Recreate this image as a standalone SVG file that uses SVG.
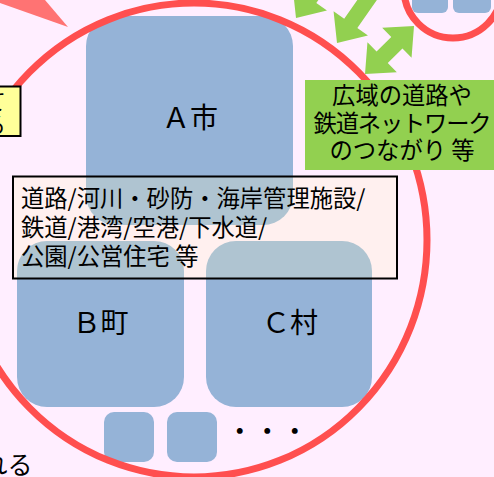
<svg xmlns="http://www.w3.org/2000/svg" width="494" height="477" viewBox="0 0 494 477">
<defs>
<style>
.blue{fill:#95B3D7;}
.ring{fill:none;stroke:#FF4F4F;stroke-width:7;}
.jp{font-family:"Noto Sans CJK JP","Liberation Sans",sans-serif;fill:#000;}
.lbl{font-size:28px;text-anchor:middle;}
.box{font-size:23.3px;}
.garrow{fill:#92D050;}
</style>
<path id="dbl" d="M0,0 L24,-21 L24,-8 L44.6,-8 L44.6,-21 L68.6,0 L44.6,21 L44.6,8 L24,8 L24,21 Z"/>
</defs>
<rect x="0" y="0" width="494" height="477" fill="#FFEEFF"/>

<g id="nodeA"><rect class="blue" x="86" y="16" width="207" height="209" rx="30"/><text class="jp lbl" x="190" y="128">Ａ市</text></g>
<g id="nodeB"><rect class="blue" x="17" y="241" width="167" height="166" rx="30"/><text class="jp lbl" x="100.5" y="333">Ｂ町</text></g>
<g id="nodeC"><rect class="blue" x="206" y="241" width="166" height="166" rx="30"/><text class="jp lbl" x="290" y="333">Ｃ村</text></g>
<g id="nodeS1"><rect class="blue" x="104" y="412" width="50" height="50" rx="10"/></g>
<g id="nodeS2"><rect class="blue" x="167" y="412" width="50" height="50" rx="10"/></g>
<g id="dots"><text class="jp" x="226" y="440.5" font-size="27.5">・・・</text></g>
<g id="nodeTR1"><rect class="blue" x="412" y="-30" width="36" height="43" rx="6"/></g>
<g id="nodeTR2"><rect class="blue" x="453" y="-30" width="38" height="43" rx="6"/></g>

<g id="regions">
<ellipse class="ring" cx="194" cy="240" rx="233" ry="237"/>
<circle class="ring" cx="453" cy="-11" r="49"/>
</g>

<g id="connectors">
<polygon points="0,0 45,0 68,27 0,3" fill="#FF7373"/>
<use href="#dbl" class="garrow" transform="translate(296,18) rotate(-55)"/>
<path class="garrow" d="M0,0 L24,-21 L24,-8 L130,-8 L130,8 L24,8 L24,21 Z" transform="translate(337,43) rotate(-55)"/>
<use href="#dbl" class="garrow" transform="translate(365,74) rotate(-44.4)"/>
</g>

<g id="infra">
<rect x="13" y="176.5" width="384" height="102" fill="#FFF8C0" fill-opacity="0.25" stroke="#000" stroke-width="2"/>
<text class="jp box" x="21" y="206.5">道路/河川・砂防・海岸管理施設/</text>
<text class="jp box" x="21" y="235.5">鉄道/港湾/空港/下水道/</text>
<text class="jp box" x="21" y="265">公園/公営住宅 等</text>
</g>

<g id="network">
<rect x="305" y="80" width="194" height="90" fill="#92D050"/>
<text class="jp box" x="402" y="103.5" text-anchor="middle">広域の道路や</text>
<text class="jp box" x="402" y="131.5" text-anchor="middle" letter-spacing="-1.2">鉄道ネットワーク</text>
<text class="jp box" x="402" y="159" text-anchor="middle">のつながり 等</text>
</g>

<g id="leftnote">
<rect x="-40" y="86.5" width="60.5" height="49.5" fill="#FFFF99" stroke="#000" stroke-width="2"/>
<text class="jp" x="6" y="110" font-size="23" text-anchor="end">て</text>
<text class="jp" x="6" y="133" font-size="23" text-anchor="end">る</text>
</g>

<g id="bottomnote"><text class="jp" x="32.5" y="473.5" font-size="25" text-anchor="end">れる</text></g>
</svg>
